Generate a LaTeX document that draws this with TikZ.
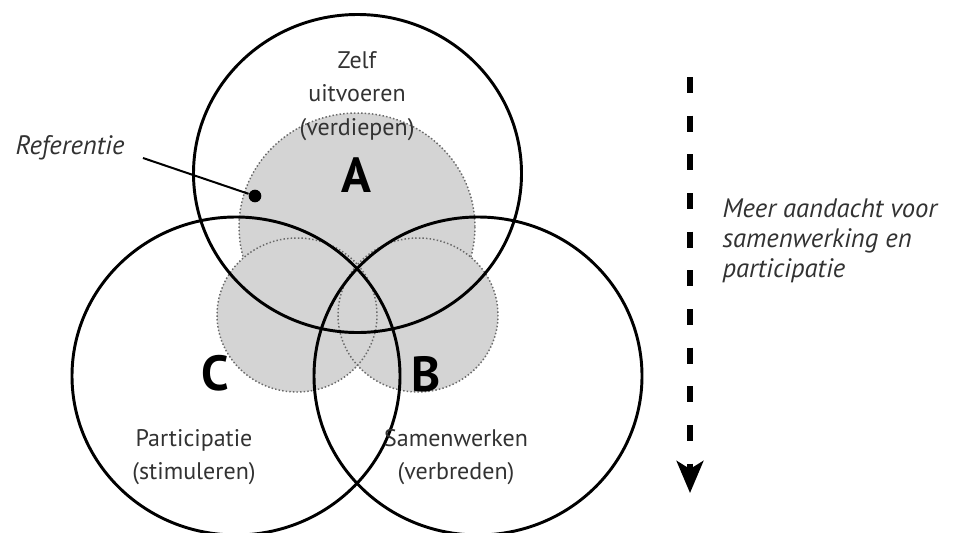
\documentclass[tikz,border=0pt]{standalone}
\usepackage{fontspec}
\setmainfont{PT Sans}
\usetikzlibrary{arrows.meta}

\definecolor{areagray}{RGB}{212,212,212}
\definecolor{dotgray}{RGB}{105,105,105}
\definecolor{textgray}{RGB}{50,50,50}

\tikzset{every picture/.style={line width=0.75pt}}
\tikzset{
  bigring/.style={draw=black, line width=2.2pt},
  areafill/.style={fill=areagray, draw=none},
  arearim/.style={draw=dotgray, line width=1.1pt, dash pattern=on 1.1pt off 1.6pt},
  roletext/.style={inner sep=0.75pt, align=center, text=textgray, font=\fontsize{18}{25}\selectfont},
  lettertext/.style={inner sep=0.75pt, font=\fontsize{37}{40}\selectfont\bfseries},
  notetext/.style={inner sep=0.75pt, align=left, text=textgray, font=\fontsize{20}{22.5}\selectfont\itshape}
}

\begin{document}
\begin{tikzpicture}[x=0.75pt,y=0.75pt,yscale=-1,xscale=1]
\useasboundingbox (0,0) rectangle (955,532);

%Shape: shaded areas
\path [areafill] (357,227) ellipse [x radius=118, y radius=114];
\draw [arearim] (357,227) ellipse [x radius=118, y radius=114];
\path [areafill] (297,315) ellipse [x radius=80, y radius=77];
\path [areafill] (418,315) ellipse [x radius=80, y radius=77];
\draw [arearim] (297,315) ellipse [x radius=80, y radius=77];
\draw [arearim] (418,315) ellipse [x radius=80, y radius=77];

%Shape: Circle A
\draw [bigring] (357.5,173.5) ellipse [x radius=164, y radius=159];
%Shape: Circle C
\draw [bigring] (236,376) ellipse [x radius=164, y radius=159];
%Shape: Circle B
\draw [bigring] (478,376) ellipse [x radius=164, y radius=159];

% Text Node
\node [roletext] (zelf) at (357,96) {Zelf\\uitvoeren\\(verdiepen)};
% Text Node
\node [lettertext] (letA) at (356,175) {A};
% Text Node
\node [lettertext] (letC) at (215,373) {C};
% Text Node
\node [lettertext] (letB) at (426,374) {B};
% Text Node
\node [roletext] (partic) at (194,457) {Participatie\\(stimuleren)};
% Text Node
\node [roletext] (samen) at (456,457) {Samenwerken\\(verbreden)};

%Referentie pointer
\node [notetext] (reflabel) at (70,148) {Referentie};
\node [circle, fill=black, inner sep=0pt, minimum size=9.5pt] (refdot) at (255,196) {};
\coordinate (refstart) at (143,158);
\draw [line width=1.5pt] (refstart) -- (refdot);

%Dashed arrow
\coordinate (arrtop) at (690,77);
\coordinate (arrbot) at (690,493);
\draw [line width=4pt, dash pattern=on 12pt off 17pt, -{Stealth[length=24pt, width=20pt, inset=6pt]}] (arrtop) -- (arrbot);

% Text Node
\node [notetext, anchor=west] (focus) at (721,241) {Meer aandacht voor\\samenwerking en\\participatie};

\end{tikzpicture}
\end{document}
